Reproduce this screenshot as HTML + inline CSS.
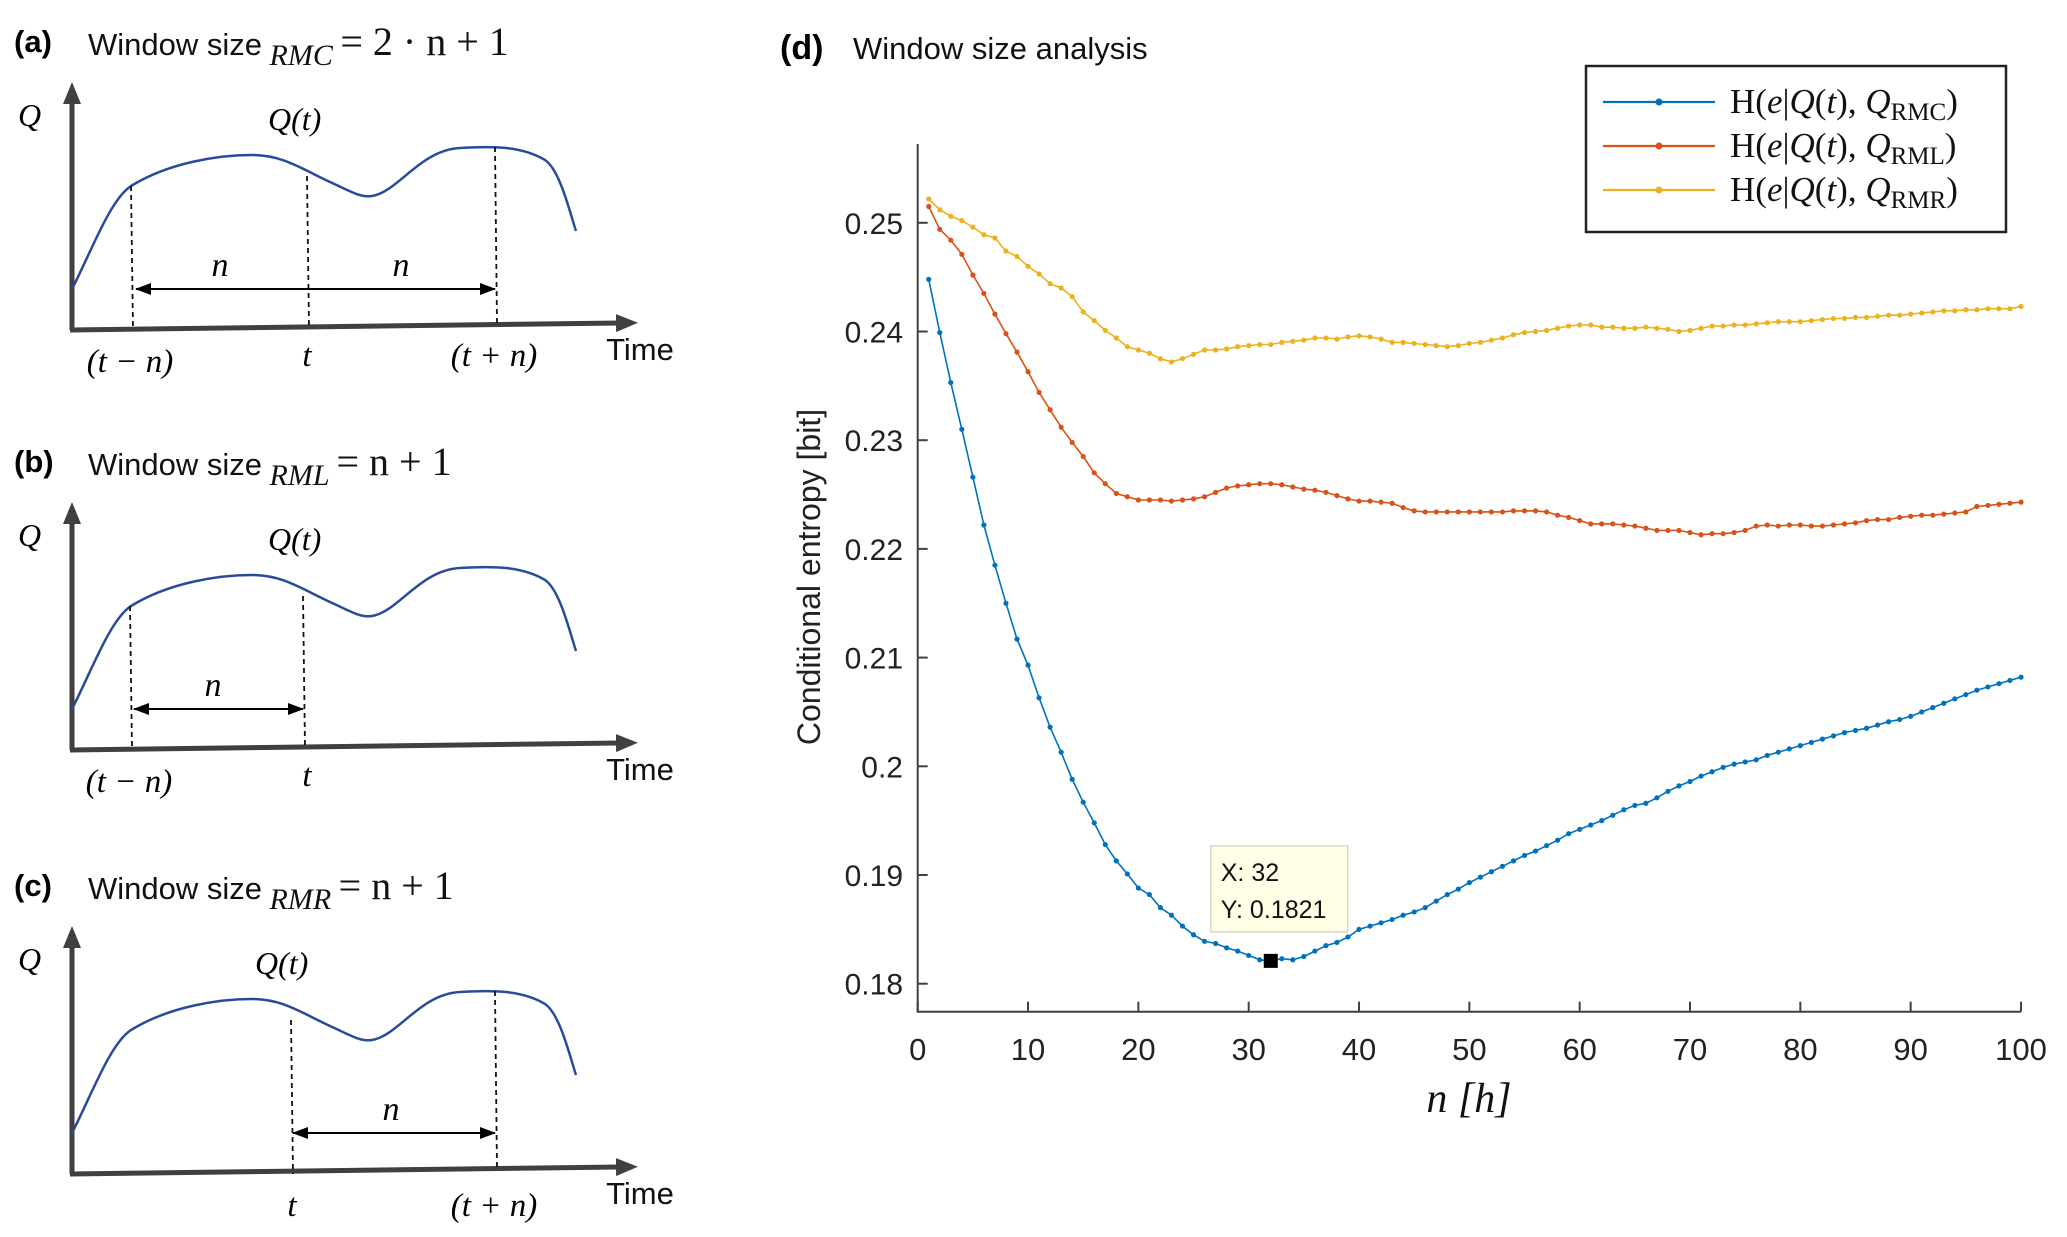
<!DOCTYPE html>
<html><head><meta charset="utf-8"><style>
html,body{margin:0;padding:0;background:#fff;}
svg{display:block;}
.sans{font-family:"Liberation Sans",sans-serif;}
.serif{font-family:"Liberation Serif",serif;}
</style></head><body>
<svg id="fig" width="2067" height="1237" viewBox="0 0 2067 1237" xmlns="http://www.w3.org/2000/svg">
<defs>
<marker id="ah" markerUnits="userSpaceOnUse" markerWidth="16" markerHeight="12" refX="15" refY="6" orient="auto-start-reverse"><path d="M0,0 L16,6 L0,12 Z" fill="#000"/></marker>
<marker id="axh" markerUnits="userSpaceOnUse" markerWidth="22" markerHeight="18" refX="4" refY="9" orient="auto"><path d="M0,0 L22,9 L0,18 Z" fill="#404040"/></marker>
<g id="curve"><path d="M72,289 C92,250 110,200 131,186 C170,162 220,155 252,155 C282,155 300,168 330,182 C348,190 360,198 372,196 C398,192 420,150 460,148 C492,146 522,146 545,160 C560,170 570,213 576,231" fill="none" stroke="#2a4a9a" stroke-width="2.5"/></g>
</defs>
<g id="panels"></g>
<g id="chart"></g>
</svg>
<script>
// ---------- data ----------
const nValues = Array.from({length:100},(_,i)=>i+1);
const rmc = [0.2448,0.2399,0.2353,0.2310,0.2266,0.2222,0.2185,0.2150,0.2117,0.2093,0.2063,0.2036,0.2013,0.1988,0.1967,0.1948,0.1928,0.1913,0.1901,0.1888,0.1882,0.1870,0.1863,0.1853,0.1845,0.1839,0.1837,0.1833,0.1830,0.1826,0.1822,0.1821,0.1823,0.1822,0.1825,0.1830,0.1835,0.1838,0.1843,0.1850,0.1853,0.1856,0.1859,0.1863,0.1866,0.1870,0.1876,0.1882,0.1887,0.1893,0.1898,0.1903,0.1908,0.1913,0.1918,0.1922,0.1927,0.1932,0.1938,0.1942,0.1946,0.1950,0.1955,0.1960,0.1964,0.1966,0.1971,0.1977,0.1982,0.1986,0.1991,0.1995,0.1999,0.2002,0.2004,0.2006,0.2010,0.2013,0.2016,0.2019,0.2022,0.2025,0.2028,0.2031,0.2033,0.2035,0.2038,0.2041,0.2043,0.2046,0.2050,0.2054,0.2058,0.2062,0.2066,0.2070,0.2073,0.2076,0.2079,0.2082];
const rml = [0.2515,0.2494,0.2484,0.2471,0.2452,0.2435,0.2416,0.2398,0.2381,0.2363,0.2344,0.2328,0.2312,0.2298,0.2285,0.2270,0.2260,0.2251,0.2248,0.2245,0.2245,0.2245,0.2244,0.2245,0.2246,0.2248,0.2252,0.2256,0.2258,0.2259,0.2260,0.2260,0.2259,0.2257,0.2255,0.2254,0.2252,0.2249,0.2246,0.2244,0.2244,0.2243,0.2242,0.2238,0.2235,0.2234,0.2234,0.2234,0.2234,0.2234,0.2234,0.2234,0.2234,0.2235,0.2235,0.2235,0.2234,0.2231,0.2229,0.2226,0.2223,0.2223,0.2223,0.2222,0.2221,0.2219,0.2217,0.2217,0.2217,0.2215,0.2213,0.2214,0.2214,0.2215,0.2217,0.2221,0.2222,0.2221,0.2222,0.2222,0.2221,0.2221,0.2222,0.2223,0.2224,0.2226,0.2227,0.2227,0.2229,0.2230,0.2231,0.2231,0.2232,0.2233,0.2234,0.2239,0.2240,0.2241,0.2242,0.2243];
const rmr = [0.2522,0.2512,0.2506,0.2502,0.2496,0.2489,0.2486,0.2474,0.2469,0.2460,0.2453,0.2444,0.2440,0.2432,0.2418,0.2410,0.2401,0.2394,0.2386,0.2383,0.2380,0.2375,0.2372,0.2375,0.2379,0.2383,0.2383,0.2384,0.2386,0.2387,0.2388,0.2388,0.2390,0.2391,0.2392,0.2394,0.2394,0.2393,0.2395,0.2396,0.2395,0.2393,0.2390,0.2390,0.2389,0.2388,0.2387,0.2386,0.2387,0.2389,0.2390,0.2392,0.2394,0.2397,0.2399,0.2400,0.2401,0.2403,0.2405,0.2406,0.2406,0.2404,0.2404,0.2403,0.2403,0.2404,0.2403,0.2402,0.2400,0.2401,0.2403,0.2405,0.2405,0.2406,0.2406,0.2407,0.2408,0.2409,0.2409,0.2409,0.2410,0.2411,0.2412,0.2412,0.2413,0.2413,0.2414,0.2415,0.2415,0.2416,0.2417,0.2418,0.2419,0.2419,0.2420,0.2420,0.2421,0.2421,0.2421,0.2423];
const xTicks = [0,10,20,30,40,50,60,70,80,90,100];
const yTicks = [0.18,0.19,0.20,0.21,0.22,0.23,0.24,0.25];
const yTickLabels = ["0.18","0.19","0.2","0.21","0.22","0.23","0.24","0.25"];
const tipX = 32;
const tipY = 0.1821;

const NS="http://www.w3.org/2000/svg";
function mk(tag,attrs,parent,text){const e=document.createElementNS(NS,tag);for(const k in attrs)e.setAttribute(k,attrs[k]);if(text!==undefined)e.textContent=text;parent.appendChild(e);return e;}

const X0=917.7, X1=2021, Y0=983.7, PXU=1087;
const xs=v=>X0+(v-0)*(X1-X0)/100;
const ys=v=>Y0-(v-0.18)*PXU*10;
const plotTop=144, plotBottom=1011.7;

const chart=document.getElementById('chart');



let t=mk('text',{x:780,y:59,'font-size':34,'font-weight':'bold',class:'sans'},chart,'(d)');


t=mk('text',{x:853,y:59,'font-size':31,class:'sans',fill:'#111'},chart,'Window size analysis');



let ax=mk('path',{d:`M${X0},${plotTop} L${X0},${plotBottom} L${X1},${plotBottom}`,fill:'none',stroke:'#404040','stroke-width':2},chart);


xTicks.forEach(v=>{
  const l=mk('line',{x1:xs(v),x2:xs(v),y1:plotBottom,y2:plotBottom-10,stroke:'#404040','stroke-width':2},chart);
  
  
  const tx=mk('text',{x:xs(v),y:1060,'font-size':31,'text-anchor':'middle',class:'sans',fill:'#222'},chart,String(v));
  
  
});
yTicks.forEach((v,i)=>{
  const l=mk('line',{x1:X0,x2:X0+10,y1:ys(v),y2:ys(v),stroke:'#404040','stroke-width':2},chart);
  
  
  const tx=mk('text',{x:903,y:ys(v)+11,'font-size':30,'text-anchor':'end',class:'sans',fill:'#222'},chart,yTickLabels[i]);
  
  
});
t=mk('text',{x:0,y:0,'font-size':32,'text-anchor':'middle',class:'sans',fill:'#222',transform:'translate(820,577) rotate(-90)'},chart,'Conditional entropy [bit]');


t=mk('text',{x:1469,y:1112,'font-size':42,'text-anchor':'middle',class:'serif','font-style':'italic',fill:'#111'},chart,'n [h]');



const series=[{d:rmc,c:'#0072BD',n:'series-rmc'},{d:rml,c:'#D95319',n:'series-rml'},{d:rmr,c:'#EDB120',n:'series-rmr'}];
series.forEach(s=>{
  const g=mk('g',{},chart);
  
  
  const pts=s.d.map((v,i)=>xs(nValues[i]).toFixed(1)+','+ys(v).toFixed(1)).join(' ');
  const pl=mk('polyline',{points:pts,fill:'none',stroke:s.c,'stroke-width':1.6},g);
  
  
  s.d.forEach((v,i)=>{
    const c=mk('circle',{cx:xs(nValues[i]),cy:ys(v),r:2.6,fill:s.c},g);
    
    
  });
});

const tg=mk('g',{},chart);


mk('rect',{x:xs(tipX)-60,y:ys(tipY)-115,width:137,height:86,fill:'#ffffe6',stroke:'#d8d8c8','stroke-width':1.5},tg);
mk('text',{x:xs(tipX)-50,y:ys(tipY)-80,'font-size':25,class:'sans',fill:'#111'},tg,'X: '+tipX);
mk('text',{x:xs(tipX)-50,y:ys(tipY)-43,'font-size':25,class:'sans',fill:'#111'},tg,'Y: '+tipY);
const sq=mk('rect',{x:xs(tipX)-7,y:ys(tipY)-7,width:14,height:14,fill:'#000'},tg);



const lg=mk('g',{},chart);


mk('rect',{x:1586,y:66,width:420,height:166,fill:'#fff',stroke:'#222','stroke-width':2.5},lg);
const subs=['RMC','RML','RMR'];
[102,146,190].forEach((yy,i)=>{
  const e=mk('g',{},lg);
  
  
  mk('line',{x1:1603,x2:1715,y1:yy,y2:yy,stroke:series[i].c,'stroke-width':2.2},e);
  mk('circle',{cx:1659,cy:yy,r:3.5,fill:series[i].c},e);
  const tx=mk('text',{x:1730,y:yy+11,'font-size':35,class:'serif',fill:'#111'},e);
  tx.innerHTML='H(<tspan font-style="italic">e</tspan>|<tspan font-style="italic">Q</tspan>(<tspan font-style="italic">t</tspan>), <tspan font-style="italic">Q</tspan><tspan font-size="25" dy="7">'+subs[i]+'</tspan><tspan dy="-7">)</tspan>';
});

// ---------- left schematic panels ----------
const P=document.getElementById('panels');
function panel(off,key,sub,rhs,dash,arrow,nLabels,bottomLabels,qtx){
  const g=mk('g',{transform:`translate(0,${off})`},P);
  
  
  mk('text',{x:14,y:52,'font-size':31,'font-weight':'bold',class:'sans'},g,'('+key+')');
  const tt=mk('text',{x:88,y:55,'font-size':31,class:'sans',fill:'#111'},g);
  tt.innerHTML='Window size<tspan class="serif" font-style="italic" font-size="30" dy="10"> '+sub+' </tspan><tspan class="serif" dy="-10" font-size="40"> '+rhs+'</tspan>';
  mk('path',{d:'M72,330 L72,100',stroke:'#404040','stroke-width':5,'marker-end':'url(#axh)'},g);
  mk('path',{d:'M70,330 L620,323',stroke:'#404040','stroke-width':5,'marker-end':'url(#axh)'},g);
  mk('text',{x:18,y:126,'font-size':32,class:'serif','font-style':'italic'},g,'Q');
  mk('text',{x:qtx,y:130,'font-size':32,class:'serif','font-style':'italic'},g,'Q(t)');
  mk('use',{href:'#curve'},g);
  dash.forEach(d=>mk('line',{x1:d[0],x2:d[0]+2,y1:d[1],y2:d[2],stroke:'#111','stroke-width':1.8,'stroke-dasharray':'5,4'},g));
  mk('line',{x1:arrow[0],x2:arrow[1],y1:289,y2:289,stroke:'#000','stroke-width':2,'marker-start':'url(#ah)','marker-end':'url(#ah)'},g);
  nLabels.forEach(x=>mk('text',{x:x,y:276,'font-size':34,'text-anchor':'middle',class:'serif','font-style':'italic'},g,'n'));
  bottomLabels.forEach(b=>mk('text',{x:b[0],y:b[1],'font-size':33,'text-anchor':'middle',class:'serif','font-style':'italic'},g,b[2]));
  mk('text',{x:640,y:360,'font-size':31,'text-anchor':'middle',class:'sans',fill:'#111'},g,'Time');
}
panel(0,'a','RMC','= 2 · n + 1',[[131,186,330],[307,176,328],[495,147,324]],[136,495],[220,401],[[130,372,'(t − n)'],[307,366,'t'],[494,366,'(t + n)']],268);
panel(420,'b','RML','= n + 1',[[130,186,330],[303,176,328]],[134,303],[213],[[129,372,'(t − n)'],[307,366,'t']],268);
panel(844,'c','RMR','= n + 1',[[291,176,330],[495,147,326]],[293,495],[391],[[292,372,'t'],[494,372,'(t + n)']],255);
</script>
</body></html>
